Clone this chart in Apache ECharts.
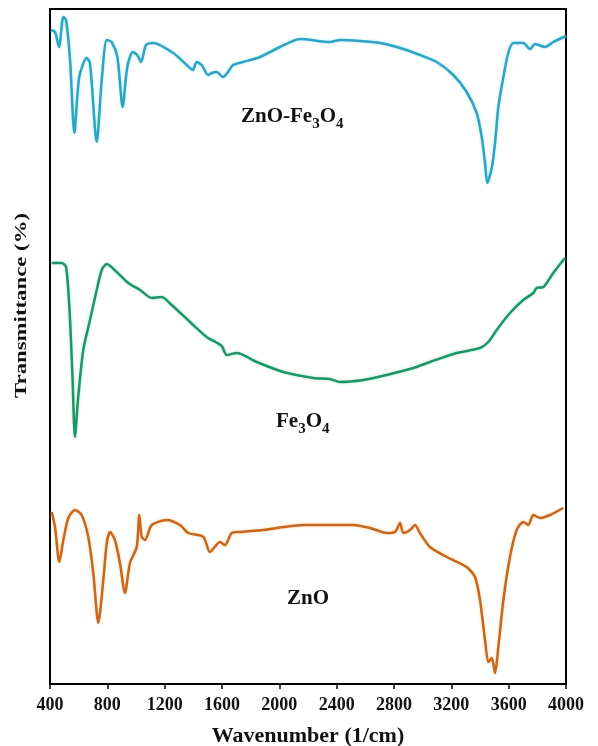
<!DOCTYPE html>
<html>
<head>
<meta charset="utf-8">
<script src="https://cdn.jsdelivr.net/npm/echarts@6/dist/echarts.min.js"></script>
<style>html,body{margin:0;padding:0;background:#fff}#c{width:598px;height:746px}</style>
</head>
<body>
<div id="c"></div>
<script>
// Wavenumber (1/cm) and offset transmittance (arbitrary units) for each spectrum
var wnZnOFe = [407,435,463,493,512,540,570,604,656,679,726,761,796,830,870,907,939,977,1009,1035,1070,1121,1260,1354,1396,1423,1458,1504,1528,1563,1607,1642,1677,1747,1865,2005,2144,2353,2423,2563,2702,2842,2981,3098,3214,3307,3377,3412,3435,3451,3482,3505,3528,3563,3597,3632,3702,3749,3784,3853,3911,4000];
var tZnOFe = [654,652,637,667,664,624,551,607,626,621,542,604,644,642,627,577,617,632,629,622,639,641,631,619,614,622,619,609,611,612,607,612,619,622,627,637,645,642,644,643,641,636,629,622,609,592,571,547,521,501,516,541,577,607,631,641,641,635,640,637,642,648];

var wnFe = [412,482,512,535,556,574,597,632,679,726,761,796,865,946,1028,1110,1179,1249,1377,1493,1598,1633,1703,1842,2028,2237,2353,2423,2586,2749,2935,3051,3237,3400,3458,3516,3609,3702,3772,3795,3842,3911,3993];
var tFe = [421,421,417,377,311,247,287,334,364,394,414,420,412,401,394,386,387,379,362,347,338,329,331,322,312,306,305,302,304,309,316,322,331,336,342,354,371,384,391,396,397,411,426];

var wnZnO = [412,435,465,493,528,574,621,667,702,737,772,796,819,853,888,923,958,1005,1023,1040,1063,1110,1214,1307,1365,1470,1516,1586,1621,1668,1726,1888,2028,2167,2516,2633,2749,2807,2842,2865,2912,2947,2981,3051,3168,3307,3365,3400,3435,3458,3482,3505,3528,3563,3609,3656,3702,3737,3772,3819,3888,3981];
var tZnO = [172,157,122,144,166,174,169,147,111,61,104,141,152,144,121,91,121,137,169,147,144,159,164,159,151,147,132,142,139,151,152,154,157,159,159,156,151,152,161,151,154,159,151,137,127,117,107,84,44,22,26,11,37,84,127,154,162,159,169,166,169,176];

var xTicks = [400,800,1200,1600,2000,2400,2800,3200,3600,4000];

function pairs(xs, ys){ return xs.map(function(x,i){ return [x, ys[i]]; }); }

var serif = '"Liberation Serif","Times New Roman",serif';
var chart = echarts.init(document.getElementById('c'), null, {renderer:'canvas'});

function lbl(text, x, y){
  return {
    type:'text', left: x, top: y,
    style:{
      text: text,
      font: 'bold 21px ' + serif,
      fill:'#111',
      rich:{
        n:{fontFamily: serif, fontWeight:'bold', fontSize:21, fill:'#111', verticalAlign:'bottom', lineHeight:24},
        s:{fontFamily: serif, fontWeight:'bold', fontSize:15, fill:'#111', verticalAlign:'bottom', lineHeight:24, padding:[0,0,-5,0]}
      }
    }
  };
}

chart.setOption({
  animation:false,
  backgroundColor:'#fff',
  grid:{left:50, right:32, top:9, bottom:62, containLabel:false, outerBoundsMode:'none',
    show:true, borderColor:'#000', borderWidth:2, backgroundColor:'transparent'},
  xAxis:{
    type:'value', min:400, max:4000, interval:400,
    axisLine:{show:true, onZero:false, lineStyle:{color:'#000', width:2}},
    axisTick:{show:true, inside:false, length:5, lineStyle:{color:'#000', width:1.5}},
    axisLabel:{color:'#111', fontFamily:serif, fontWeight:'bold', fontSize:18, margin:12,
      formatter:function(v){ return xTicks.indexOf(v) >= 0 ? String(v) : ''; }},
    splitLine:{show:false},
    name:'Wavenumber (1/cm)', nameLocation:'middle', nameGap:41,
    nameTextStyle:{color:'#111', fontFamily:serif, fontWeight:'bold', fontSize:22}
  },
  yAxis:{
    type:'value', min:0, max:675,
    axisLine:{show:true, lineStyle:{color:'#000', width:2}},
    axisTick:{show:false}, axisLabel:{show:false}, splitLine:{show:false}
  },
  series:[
    {type:'line', data:pairs(wnZnOFe,tZnOFe), showSymbol:false, smooth:0.25,
      lineStyle:{color:'#2fa3c6', width:2.5, shadowColor:'rgba(120,220,235,0.6)', shadowBlur:3}},
    {type:'line', data:pairs(wnFe,tFe), showSymbol:false, smooth:0.25,
      lineStyle:{color:'#1f9468', width:2.5, shadowColor:'rgba(120,225,170,0.6)', shadowBlur:3}},
    {type:'line', data:pairs(wnZnO,tZnO), showSymbol:false, smooth:0.25,
      lineStyle:{color:'#c8661e', width:2.5, shadowColor:'rgba(250,200,120,0.7)', shadowBlur:3}}
  ],
  graphic:[
    {type:'text', left: 13, top: 213, rotation: Math.PI/2, scaleX:1.34, originX:0, originY:0,
      style:{text:'Transmittance (%)', font:'bold 17px ' + serif, fill:'#111'}},
    lbl('{n|ZnO-Fe}{s|3}{n|O}{s|4}', 241, 106),
    lbl('{n|Fe}{s|3}{n|O}{s|4}', 276, 411),
    lbl('{n|ZnO}', 287, 588)
  ]
});
</script>
</body>
</html>
